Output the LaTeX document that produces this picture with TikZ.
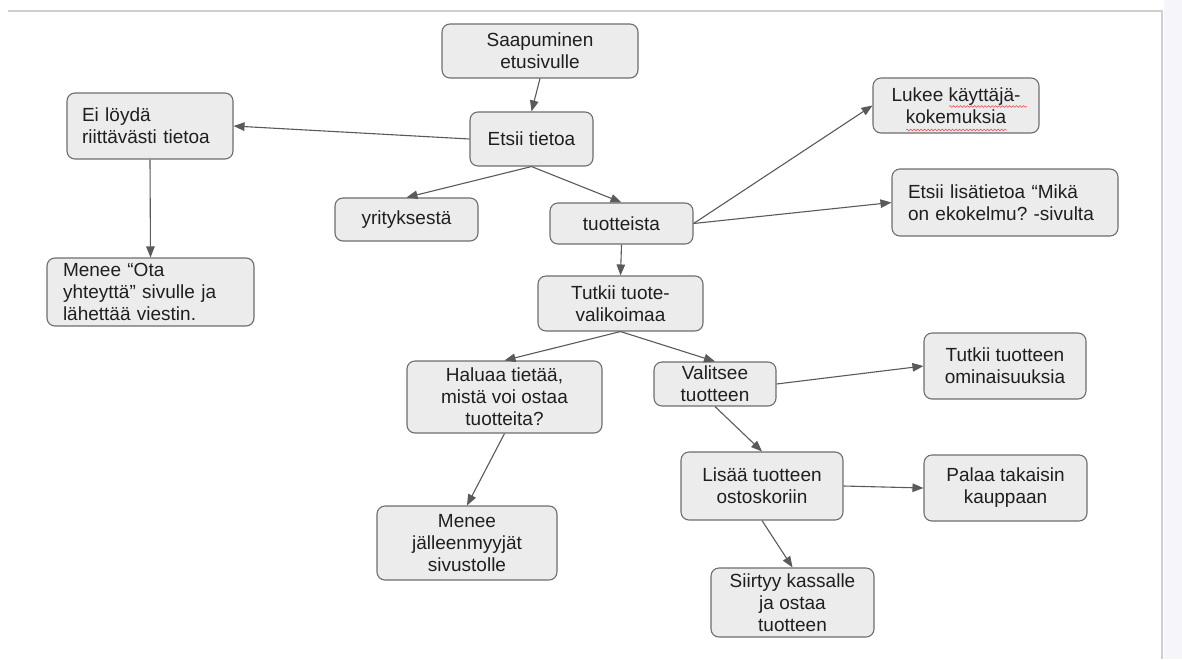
\documentclass[tikz,border=0pt]{standalone}
\usepackage{fontspec}
\setmainfont{Liberation Sans}
\frenchspacing
\usetikzlibrary{arrows.meta,decorations.pathmorphing}
\definecolor{boxfill}{HTML}{ECECEC}
\definecolor{bordergray}{HTML}{6E6E6E}
\definecolor{arrowgray}{HTML}{5A5A5A}
\definecolor{framegray}{HTML}{CFCFCF}
\definecolor{sidefill}{HTML}{F5F5FA}
\definecolor{spellred}{HTML}{E8474A}
\definecolor{txt}{HTML}{1F1F1F}
\tikzset{
  box/.style={draw=bordergray, line width=1.1pt, fill=boxfill, rounded corners=8pt,
    inner sep=0pt, align=center, text=txt, font=\fontsize{19}{22}\selectfont},
  leftbox/.style={box, align=left},
  arr/.style={draw=arrowgray, line width=1.1pt, -{Triangle[length=11pt,width=8.5pt]}},
  spell/.style={draw=spellred, line width=0.5pt, decorate,
    decoration={snake, amplitude=0.9pt, segment length=3.5pt}}
}
\begin{document}
\begin{tikzpicture}[x=1pt,y=-1pt]
  \useasboundingbox (0,0) rectangle (1182,659);
  \fill[white] (0,0) rectangle (1182,659);
  % page frame
  \fill[sidefill] (1164,0) rectangle (1182,659);
  \draw[framegray, line width=2pt] (8,11) -- (1163,11);
  \draw[framegray, line width=2pt] (1162,10) -- (1162,659);

  % nodes
  \node[box, minimum width=196pt, minimum height=54pt] (saap) at (540,51) {Saapuminen\\etusivulle};
  \node[box, minimum width=123pt, minimum height=54pt] (etsii) at (531.5,139) {Etsii tietoa};
  \node[leftbox, text width=136pt, inner xsep=15pt, minimum height=66pt] (eiloyda) at (150,126) {Ei löydä\\riittävästi tietoa};
  \node[box, minimum width=143pt, minimum height=43pt] (yrit) at (406.5,219.5) {yrityksestä};
  \node[box, minimum width=143pt, minimum height=41pt] (tuot) at (621.5,223.5) {tuotteista};
  \node[box, minimum width=166pt, minimum height=55pt] (lukee) at (956,105.5) {Lukee käyttäjä-\\kokemuksia};
  \node[leftbox, text width=194pt, inner xsep=16pt, minimum height=67pt] (lisa) at (1005,202.5) {Etsii lisätietoa “Mikä\\on ekokelmu? -sivulta};
  \node[leftbox, text width=175pt, inner xsep=16pt, minimum height=68pt] (meneeota) at (150.5,292) {Menee “Ota\\yhteyttä” sivulle ja\\lähettää viestin.};
  \node[box, minimum width=165pt, minimum height=55pt] (tutkii) at (620.5,303.5) {Tutkii tuote-\\valikoimaa};
  \node[box, minimum width=195pt, minimum height=72pt] (haluaa) at (504.5,397) {Haluaa tietää,\\mistä voi ostaa\\tuotteita?};
  \node[box, minimum width=122pt, minimum height=44pt] (valitsee) at (715,384) {Valitsee\\tuotteen};
  \node[box, minimum width=162pt, minimum height=66pt] (tutkiiom) at (1005,366) {Tutkii tuotteen\\ominaisuuksia};
  \node[box, minimum width=162pt, minimum height=68pt] (lisaa) at (762,486) {Lisää tuotteen\\ostoskoriin};
  \node[box, minimum width=180pt, minimum height=74pt] (menejal) at (467,543) {Menee\\jälleenmyyjät\\sivustolle};
  \node[box, minimum width=163pt, minimum height=66pt] (palaa) at (1005.5,488) {Palaa takaisin\\kauppaan};
  \node[box, minimum width=163pt, minimum height=69pt] (siirtyy) at (792.5,602.5) {Siirtyy kassalle\\ja ostaa\\tuotteen};

  % spell-check underlines
  \draw[spell] ([xshift=-7pt,yshift=-1pt]lukee.center) -- ([xshift=71pt,yshift=-1pt]lukee.center);
  \draw[spell] ([xshift=-50pt,yshift=-24.5pt]lukee.center) -- ([xshift=51pt,yshift=-24.5pt]lukee.center);

  % connectors
  \draw[arr] (saap.south) -- (etsii.north);
  \draw[arr] (etsii.west) -- (eiloyda.east);
  \draw[arr] (etsii.south) -- (yrit.north);
  \draw[arr] (etsii.south) -- (tuot.north);
  \draw[arr] (tuot.east) -- (lukee.west);
  \draw[arr] (tuot.east) -- (lisa.west);
  \draw[arr] (eiloyda.south) -- (meneeota.north);
  \draw[arr] (tuot.south) -- (tutkii.north);
  \draw[arr] (tutkii.south) -- (haluaa.north);
  \draw[arr] (tutkii.south) -- (valitsee.north);
  \draw[arr] (valitsee.east) -- (tutkiiom.west);
  \draw[arr] (valitsee.south) -- (lisaa.north);
  \draw[arr] (haluaa.south) -- (menejal.north);
  \draw[arr] (lisaa.south) -- (siirtyy.north);
  \draw[arr] (lisaa.east) -- (palaa.west);
\end{tikzpicture}
\end{document}
